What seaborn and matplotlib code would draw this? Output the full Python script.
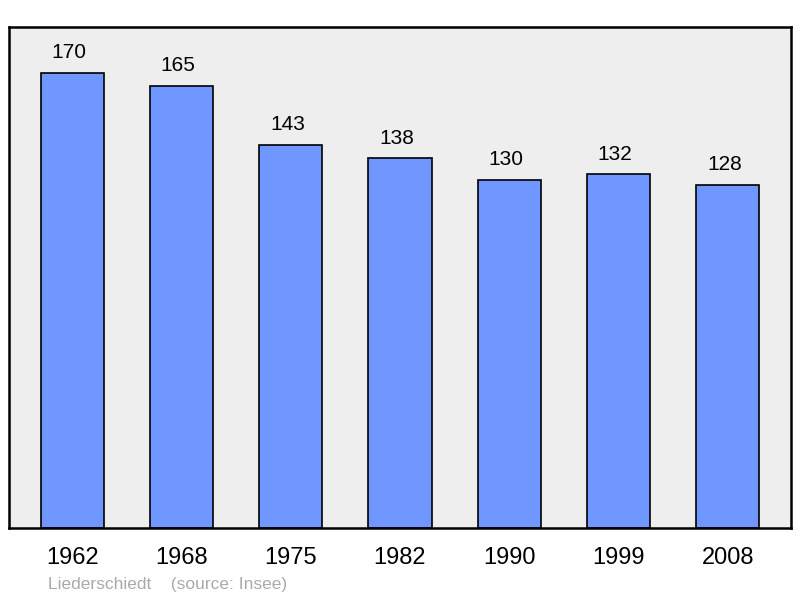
import numpy as np
import pandas as pd
import matplotlib.pyplot as plt
import seaborn as sns

years = ["1962", "1968", "1975", "1982", "1990", "1999", "2008"]
population = [170, 165, 143, 138, 130, 132, 128]

df = pd.DataFrame({"year": years, "pop": population})

sns.set_theme(style="white")
plt.rcParams["font.family"] = ["Liberation Sans", "DejaVu Sans"]

fig = plt.figure(figsize=(8, 5.98), dpi=100)
ax = fig.add_axes([9 / 800, 70 / 598, 782 / 800, 501 / 598])
ax.set_facecolor("#eeeeee")

sns.barplot(data=df, x="year", y="pop", color="#7096ff", width=0.58,
            edgecolor="black", linewidth=1.2, saturation=1, ax=ax)

# value labels above bars
for i, v in enumerate(population):
    ax.text(i - 0.03, v + 7.5, str(v), ha="center", va="center", fontsize=15, color="black")

ax.set_xlim(-0.58, 6.58)
ax.set_ylim(0, 187)
ax.set_yticks([])
ax.set_xlabel("")
ax.set_ylabel("")
ax.tick_params(axis="x", length=0, labelsize=17, pad=14, colors="black")
for s in ax.spines.values():
    s.set_color("black")
    s.set_linewidth(1.8)

fig.text(48 / 800, 1 - 584 / 598, "Liederschiedt    (source: Insee)",
         fontsize=12.5, color="#aaaaaa", va="center", ha="left")

fig.savefig("out.png", dpi=100)
